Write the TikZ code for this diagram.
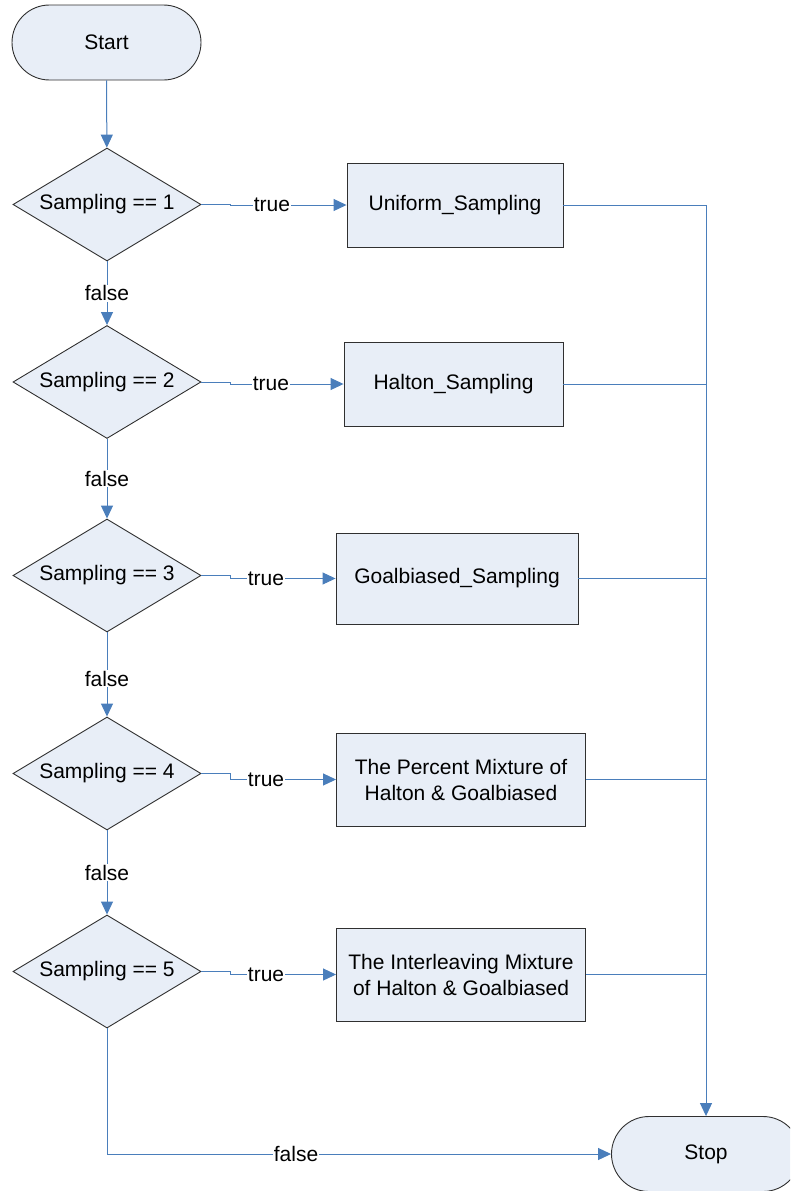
\documentclass[tikz,border=0pt]{standalone}
\usepackage{fontspec}
\setmainfont{Liberation Sans}
\usetikzlibrary{shapes.geometric,shapes.misc,arrows.meta}
\definecolor{shapefill}{HTML}{E8EEF7}
\definecolor{flowblue}{HTML}{4A7EBB}
\definecolor{edgegray}{HTML}{303030}
\tikzset{
  base/.style={draw=edgegray, line width=0.9pt, fill=shapefill, font=\fontsize{21}{26}\selectfont, align=center, inner sep=0pt},
  terminal/.style={base, rounded rectangle, minimum width=189pt, minimum height=75pt},
  decision/.style={base, diamond, aspect=1.66, minimum width=188pt, minimum height=113pt},
  process/.style={base, rectangle, minimum height=#1},
  flow/.style={draw=flowblue, line width=1pt, -{Triangle[length=13pt,width=12pt]}},
  link/.style={draw=flowblue, line width=1pt},
  lbl/.style={fill=white, inner sep=1pt, font=\fontsize{21}{26}\selectfont, text=black}
}
\begin{document}
\begin{tikzpicture}[x=1pt,y=1pt]
\useasboundingbox (0,0) rectangle (790,-1191);
\clip (0,0) rectangle (790,-1191);

% start / stop terminals
\node[terminal] (start) at (106.5,-42.5) {Start};
\node[terminal] (stop) at (706,-1154) {Stop};

% decisions
\node[decision] (d1) at (107,-204.5) {Sampling == 1};
\node[decision] (d2) at (107,-382) {Sampling == 2};
\node[decision] (d3) at (107,-575.5) {Sampling == 3};
\node[decision] (d4) at (107,-773.5) {Sampling == 4};
\node[decision] (d5) at (107,-971.5) {Sampling == 5};

% sampling methods
\node[process=84pt, minimum width=216pt] (b1) at (455,-205) {Uniform\_Sampling};
\node[process=84pt, minimum width=219pt] (b2) at (453.5,-384) {Halton\_Sampling};
\node[process=91pt, minimum width=242pt] (b3) at (457,-578.5) {Goalbiased\_Sampling};
\node[process=93pt, minimum width=249pt] (b4) at (461,-779.5) {The Percent Mixture of\\Halton \& Goalbiased};
\node[process=93pt, minimum width=249pt] (b5) at (461,-974.5) {The Interleaving Mixture\\of Halton \& Goalbiased};

% joining rail to stop
\coordinate (r1) at (706,-205);
\coordinate (r2) at (706,-384);
\coordinate (r3) at (706,-578.5);
\coordinate (r4) at (706,-779.5);
\coordinate (r5) at (706,-974.5);
\coordinate (corner) at (107,-1154);

% main chain
\draw[flow] (start) -- (d1);
\draw[flow] (d1) -- node[lbl, pos=0.5] {false} (d2);
\draw[flow] (d2) -- node[lbl, pos=0.5] {false} (d3);
\draw[flow] (d3) -- node[lbl, pos=0.55] {false} (d4);
\draw[flow] (d4) -- node[lbl, pos=0.5] {false} (d5);
\draw[link] (d5.south) -- (corner);
\draw[flow] (corner) -- node[lbl, pos=0.375] {false} (stop.west);

% true branches
\draw[flow] (d1.east) -- (230,-204.5) |- node[lbl, pos=0.68] {true} (b1.west);
\draw[flow] (d2.east) -- (230,-382) |- node[lbl, pos=0.68] {true} (b2.west);
\draw[flow] (d3.east) -- (230,-575.5) |- node[lbl, pos=0.67] {true} (b3.west);
\draw[flow] (d4.east) -- (230,-773.5) |- node[lbl, pos=0.67] {true} (b4.west);
\draw[flow] (d5.east) -- (230,-971.5) |- node[lbl, pos=0.67] {true} (b5.west);

% outputs merge into the rail
\draw[link] (b1.east) -- (r1);
\draw[link] (b2.east) -- (r2);
\draw[link] (b3.east) -- (r3);
\draw[link] (b4.east) -- (r4);
\draw[link] (b5.east) -- (r5);
\draw[flow] (r1) -- (stop.north);
\end{tikzpicture}
\end{document}
